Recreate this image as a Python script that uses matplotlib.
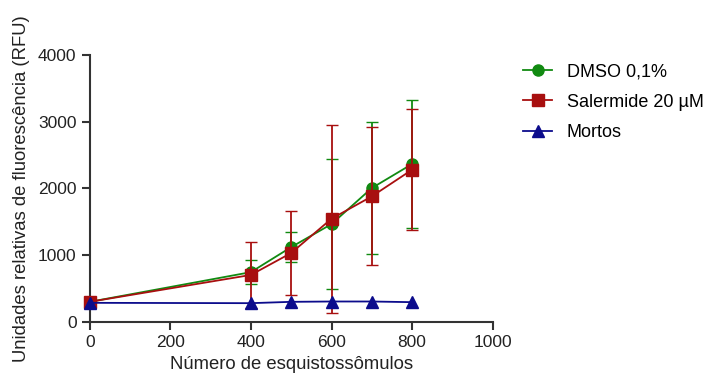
import matplotlib.pyplot as plt
from matplotlib.lines import Line2D
import numpy as np

plt.rcParams['font.family'] = ['Liberation Sans', 'DejaVu Sans']

x_dmso = [0, 400, 500, 600, 700, 800]
y_dmso = [300, 745, 1120, 1465, 2005, 2365]
e_dmso = [0, 175, 230, 980, 990, 960]

x_sal = [0, 400, 500, 600, 700, 800]
y_sal = [300, 703, 1032, 1545, 1880, 2280]
e_sal = [0, 495, 635, 1405, 1035, 910]

x_mort = [0, 400, 500, 600, 700, 800]
y_mort = [285, 280, 300, 305, 305, 295]

labels = ['DMSO 0,1%', 'Salermide 20 µM', 'Mortos']

green = '#118a11'
red = '#a80f0f'
blue = '#0c0c8c'

fig = plt.figure(figsize=(7.12, 3.76), dpi=100)
ax = fig.add_axes([0.126, 0.144, 0.566, 0.71])

ax.errorbar(x_dmso, y_dmso, yerr=e_dmso, color=green, marker='o', ms=8,
            capsize=4, lw=1.3, elinewidth=1.3, zorder=3)
ax.errorbar(x_sal, y_sal, yerr=e_sal, color=red, marker='s', ms=8,
            capsize=4, lw=1.3, elinewidth=1.3, zorder=4)
ax.plot(x_mort, y_mort, color=blue, marker='^', ms=8, lw=1.3, zorder=5)

ax.set_xlim(0, 1000)
ax.set_ylim(0, 4000)
ax.set_xticks(np.arange(0, 1001, 200))
ax.set_yticks(np.arange(0, 4001, 1000))
ax.spines['top'].set_visible(False)
ax.spines['right'].set_visible(False)
for s in ['left', 'bottom']:
    ax.spines[s].set_linewidth(1.5)
    ax.spines[s].set_color('#333333')
ax.tick_params(direction='out', length=6, width=1.5, color='#333333',
               labelsize=12.5, labelcolor='#222222')
ax.set_xlabel('Número de esquistossômulos', fontsize=13.3, color='#222222', labelpad=4)
ax.set_ylabel('Unidades relativas de fluorescência (RFU)', fontsize=13.3,
              color='#222222', labelpad=6)
for art in ax.get_children():
    try:
        art.set_clip_on(False)
    except Exception:
        pass

handles = [
    Line2D([], [], color=green, marker='o', ms=8, lw=1.3),
    Line2D([], [], color=red, marker='s', ms=8, lw=1.3),
    Line2D([], [], color=blue, marker='^', ms=8, lw=1.3),
]
fig.legend(handles, labels, loc='upper left', bbox_to_anchor=(0.712, 0.875),
           frameon=False, fontsize=13, handlelength=1.6, handletextpad=0.8,
           labelspacing=0.75)

plt.savefig('out.png', dpi=100)
